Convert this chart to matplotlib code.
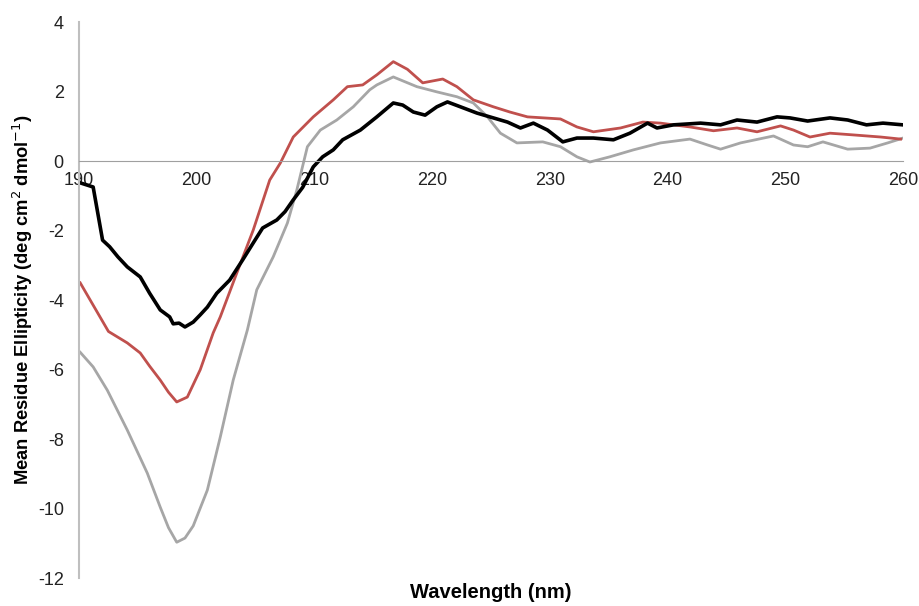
import numpy as np
import matplotlib
matplotlib.use("Agg")
import matplotlib.pyplot as plt

plt.rcParams['font.family'] = ['Liberation Sans', 'DejaVu Sans']

# wavelength (nm) / mean residue ellipticity
black_x = [190.1, 191.2, 192.0, 192.6, 193.3, 194.1, 195.2, 196.0, 196.9, 197.7, 198.0, 198.5,
           199.0, 199.7, 200.3, 200.9, 201.7, 202.8, 203.9, 204.8, 205.6, 206.8, 207.5, 208.2,
           209.0, 209.9, 210.7, 211.6, 212.4, 213.9, 215.3, 216.7, 217.5, 218.4, 219.4, 220.4,
           221.3, 222.4, 223.8, 225.2, 226.4, 227.5, 228.6, 229.8, 231.1, 232.3, 233.7, 235.4,
           236.8, 238.3, 239.1, 240.5, 242.8, 244.5, 245.9, 247.6, 249.3, 250.4, 251.9, 253.8,
           255.3, 256.9, 258.3, 260.0]
black_y = [-0.62, -0.74, -2.27, -2.46, -2.75, -3.04, -3.33, -3.80, -4.28, -4.48, -4.68, -4.66,
           -4.77, -4.63, -4.42, -4.20, -3.80, -3.42, -2.84, -2.35, -1.92, -1.69, -1.45, -1.11,
           -0.75, -0.16, 0.13, 0.33, 0.62, 0.90, 1.28, 1.68, 1.62, 1.42, 1.33, 1.57,
           1.71, 1.57, 1.39, 1.25, 1.13, 0.96, 1.10, 0.90, 0.56, 0.67, 0.67, 0.62,
           0.81, 1.10, 0.96, 1.05, 1.10, 1.05, 1.19, 1.13, 1.28, 1.25, 1.16, 1.25,
           1.19, 1.05, 1.10, 1.05]

red_x = [190.1, 191.3, 192.5, 194.1, 195.2, 196.0, 196.9, 197.6, 198.3, 199.2, 200.3, 201.4,
         202.0, 203.4, 204.8, 206.2, 207.1, 208.2, 209.9, 211.6, 212.8, 214.1, 215.3, 216.7,
         217.9, 219.2, 220.9, 222.1, 223.5, 225.2, 226.6, 228.1, 230.9, 232.3, 233.7, 236.0,
         237.9, 239.4, 240.5, 241.9, 243.9, 245.9, 247.6, 249.6, 250.7, 252.1, 253.8, 255.8,
         258.1, 259.8]
red_y = [-3.50, -4.20, -4.90, -5.23, -5.52, -5.90, -6.30, -6.65, -6.93, -6.79, -6.00, -4.94,
         -4.48, -3.22, -1.98, -0.54, -0.05, 0.70, 1.28, 1.77, 2.15, 2.20, 2.49, 2.87,
         2.65, 2.26, 2.37, 2.15, 1.77, 1.57, 1.42, 1.28, 1.22, 0.99, 0.85, 0.96,
         1.13, 1.10, 1.05, 0.99, 0.88, 0.96, 0.85, 1.02, 0.90, 0.70, 0.81, 0.76,
         0.70, 0.64]

gray_x = [190.1, 191.2, 192.4, 194.1, 195.8, 196.9, 197.6, 198.3, 199.0, 199.7, 200.9, 202.0,
          203.1, 204.3, 205.1, 206.5, 207.7, 208.5, 209.4, 210.5, 211.9, 213.3, 214.7, 215.3,
          216.7, 218.7, 220.4, 222.1, 223.5, 224.7, 225.8, 227.2, 229.4, 230.9, 232.3, 233.4,
          235.1, 237.1, 239.4, 241.9, 243.4, 244.5, 246.2, 249.0, 250.7, 251.9, 253.2, 255.3,
          257.2, 258.7, 260.0]
gray_y = [-5.50, -5.92, -6.59, -7.74, -8.98, -9.96, -10.55, -10.97, -10.85, -10.50, -9.47, -7.94,
          -6.30, -4.86, -3.70, -2.75, -1.78, -0.83, 0.42, 0.90, 1.19, 1.57, 2.06, 2.20,
          2.43, 2.15, 2.00, 1.86, 1.68, 1.28, 0.81, 0.53, 0.56, 0.42, 0.13, -0.02,
          0.13, 0.33, 0.53, 0.64, 0.47, 0.35, 0.53, 0.73, 0.47, 0.42, 0.56, 0.35,
          0.38, 0.53, 0.67]

xticks = [190, 200, 210, 220, 230, 240, 250, 260]
yticks = [-12, -10, -8, -6, -4, -2, 0, 2, 4]

fig = plt.figure(figsize=(9.2, 6.06), dpi=100)
ax = fig.add_axes([0.0859, 0.0462, 0.8956, 0.9168])

ax.plot(gray_x, gray_y, color='#a6a6a6', lw=2.0)
ax.plot(red_x, red_y, color='#c0504d', lw=2.0)
ax.plot(black_x, black_y, color='black', lw=2.6)

ax.set_xlim(190, 260)
ax.set_ylim(-12, 4)
ax.set_xticks(xticks)
ax.set_yticks(yticks)
ax.set_xticklabels([str(t) for t in xticks])
ax.set_yticklabels([str(t) for t in yticks])

for s in ['top', 'right']:
    ax.spines[s].set_visible(False)
ax.spines['bottom'].set_position(('data', 0))
ax.spines['bottom'].set_color('#a0a0a0')
ax.spines['left'].set_color('#bfbfbf')
ax.spines['left'].set_linewidth(1.5)
ax.tick_params(length=0, labelsize=13, colors='#222222')
ax.tick_params(axis='x', pad=8)
ax.tick_params(axis='y', pad=11)

fig.text(0.025, 0.505, 'Mean Residue Ellipticity (deg cm$^2$ dmol$^{-1}$)', rotation=90,
         ha='center', va='center', fontsize=13.2, fontweight='bold')
fig.text(0.533, 0.022, 'Wavelength (nm)', ha='center', va='center', fontsize=14.5,
         fontweight='bold')

fig.savefig('out.png', dpi=100)
